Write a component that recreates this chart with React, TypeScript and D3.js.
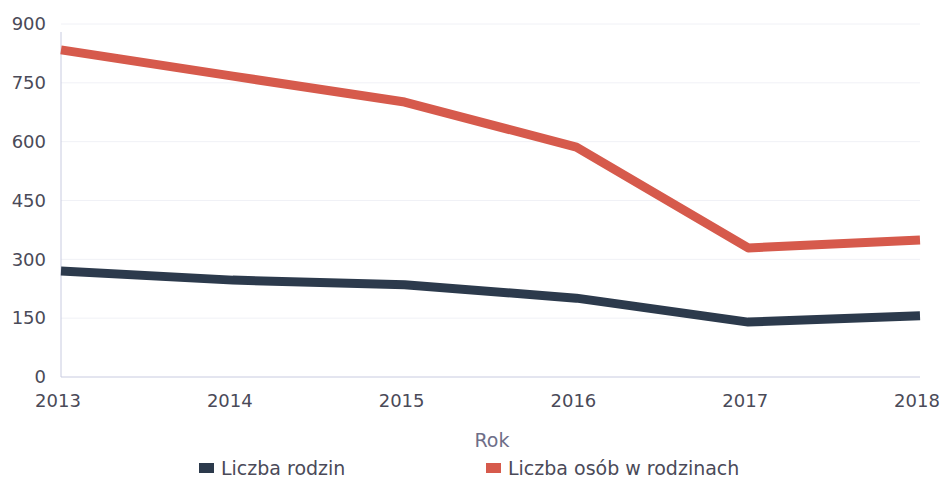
import { useEffect, useRef } from "react";
import * as d3 from "d3";

// ---- data ----
const years = [2013, 2014, 2015, 2016, 2017, 2018];
const rodziny = [270, 247, 235, 201, 140, 156];
const osoby = [834, 767, 701, 586, 329, 349];
const yTicks = [0, 150, 300, 450, 600, 750, 900];
const seriesNames = ["Liczba rodzin", "Liczba osób w rodzinach"];
const seriesColors = ["#2c3a4c", "#d65a4c"];

export default function App() {
  const svgRef = useRef<SVGSVGElement>(null);

  useEffect(() => {
    const svg = d3.select(svgRef.current);
    svg.selectAll("*").remove();

    const W = 948, H = 491;
    const x = d3.scaleLinear().domain([2013, 2018]).range([61, 920]);
    const y = d3.scaleLinear().domain([0, 900]).range([377, 24]);
    const font = "'DejaVu Sans', sans-serif";
    const textColor = "#4a4a58";
    const fs = 18;

    svg.attr("width", W).attr("height", H);

    // faint gridlines
    svg.append("g").selectAll("line").data(yTicks.slice(1)).join("line")
      .attr("x1", x(2013)).attr("x2", x(2018))
      .attr("y1", d => y(d)).attr("y2", d => y(d))
      .attr("stroke", "#f0f1f6").attr("stroke-width", 1);

    // axes lines
    svg.append("line")
      .attr("x1", x(2013)).attr("x2", x(2013)).attr("y1", y(900) + 8).attr("y2", y(0))
      .attr("stroke", "#c8cbe0").attr("stroke-width", 1);
    svg.append("line")
      .attr("x1", x(2013)).attr("x2", x(2018)).attr("y1", y(0)).attr("y2", y(0))
      .attr("stroke", "#c8cbe0").attr("stroke-width", 1);

    // y tick labels
    svg.append("g").selectAll("text").data(yTicks).join("text")
      .attr("x", 46).attr("y", d => y(d)).attr("dy", "0.35em")
      .attr("text-anchor", "end")
      .attr("font-family", font).attr("font-size", fs).attr("fill", textColor)
      .text(d => d);

    // x tick labels
    svg.append("g").selectAll("text").data(years).join("text")
      .attr("x", d => x(d) - 3).attr("y", 407)
      .attr("text-anchor", "middle")
      .attr("font-family", font).attr("font-size", fs).attr("fill", textColor)
      .text(d => d);

    // axis title
    svg.append("text")
      .attr("x", 492).attr("y", 447).attr("text-anchor", "middle")
      .attr("font-family", font).attr("font-size", 19).attr("fill", "#6e6e88")
      .text("Rok");

    // lines
    const line = d3.line<number>()
      .x((_, i) => x(years[i]))
      .y(d => y(d));
    [rodziny, osoby].forEach((vals, i) => {
      svg.append("path")
        .datum(vals)
        .attr("fill", "none")
        .attr("stroke", seriesColors[i])
        .attr("stroke-width", 9)
        .attr("stroke-linejoin", "round")
        .attr("d", line);
    });

    // legend
    const legendX = [199, 486];
    seriesNames.forEach((name, i) => {
      const g = svg.append("g").attr("transform", `translate(${legendX[i]},468)`);
      g.append("rect").attr("x", 0).attr("y", -5).attr("width", 15).attr("height", 10)
        .attr("fill", seriesColors[i]);
      g.append("text").attr("x", 22).attr("y", 0).attr("dy", "0.35em")
        .attr("font-family", font).attr("font-size", 19).attr("fill", textColor)
        .text(name);
    });
  }, []);

  return (
    <div style={{ position: "absolute", left: 0, top: 0 }}>
      <svg ref={svgRef} style={{ display: "block", background: "#fff" }} />
    </div>
  );
}
